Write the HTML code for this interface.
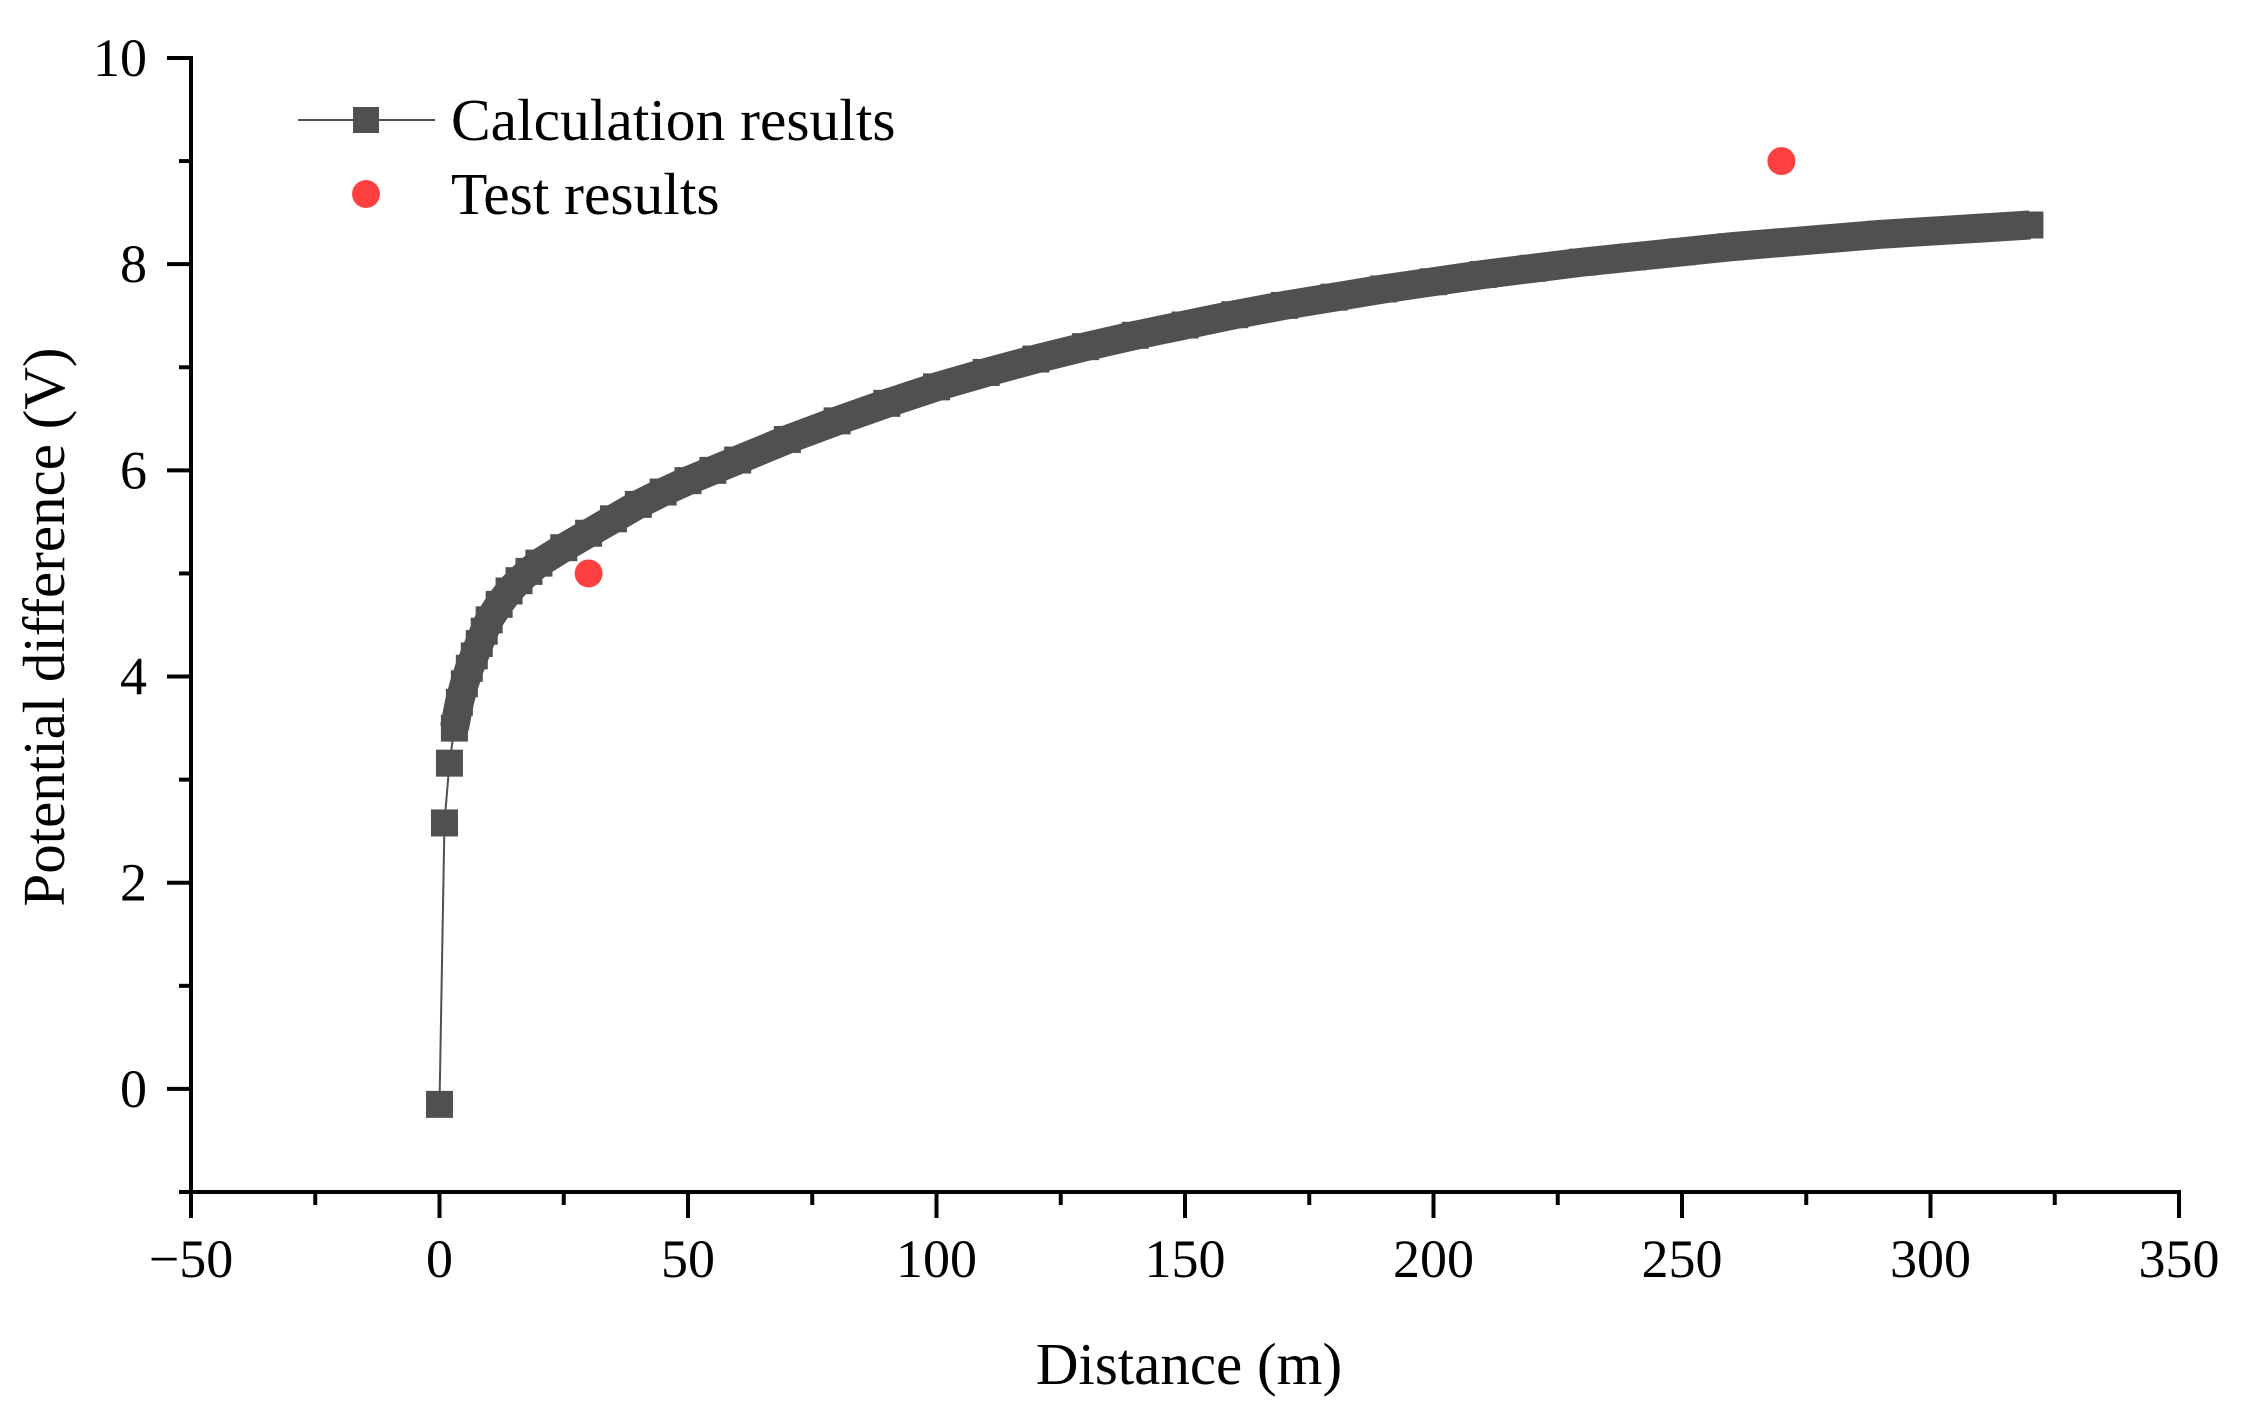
<!DOCTYPE html>
<html><head><meta charset="utf-8"><style>
html,body{margin:0;padding:0;background:#fff;}
svg{display:block;font-family:"Liberation Serif",serif;}
</style></head><body>
<svg id="chart" width="2248" height="1402" viewBox="0 0 2248 1402" xmlns="http://www.w3.org/2000/svg">
<g id="plot"></g>
<g id="axes"></g>
<g id="legend">
  <line x1="298" y1="120" x2="435" y2="120" stroke="#505050" stroke-width="2"/>
  <rect x="353" y="107" width="26" height="26" fill="#505050"/>
  <text x="451" y="140" font-size="59.5">Calculation results</text>
  <circle cx="366" cy="194" r="14" fill="#ff4040"/>
  <text x="451" y="214" font-size="59.5">Test results</text>
</g>
<text x="1189" y="1384" font-size="59" text-anchor="middle">Distance (m)</text>
<text transform="translate(64,627) rotate(-90)" font-size="59" text-anchor="middle">Potential difference (V)</text>
</svg>
<script>
const calcX = [0,1,2,3,4,5,6,7,8,9,10,12,14,16,18,20,25,30,35,40,45,50,55,60,70,80,90,100,110,120,130,140,150,160,170,180,190,200,210,220,230,240,250,260,270,280,290,300,310,320];
const calcY = [-0.15,2.58,3.16,3.5,3.75,3.93,4.08,4.2,4.32,4.44,4.55,4.7,4.83,4.93,5.02,5.1,5.25,5.39,5.53,5.67,5.79,5.9,6.0,6.1,6.3,6.48,6.65,6.81,6.95,7.08,7.2,7.31,7.41,7.51,7.6,7.68,7.76,7.83,7.9,7.96,8.02,8.07,8.12,8.17,8.21,8.25,8.29,8.32,8.35,8.38];
const testX = [30,270];
const testY = [5.0,9.0];
const xTicks = [-50,0,50,100,150,200,250,300,350];
const yTicks = [0,2,4,6,8,10];

const NS="http://www.w3.org/2000/svg";
const X0=191, X1=2179, XMIN=-50, XMAX=350;
const YB=1192, YT=58, YMIN=-1, YMAX=10;
function sx(v){return X0+(v-XMIN)/(XMAX-XMIN)*(X1-X0);}
function sy(v){return YB-(v-YMIN)/(YMAX-YMIN)*(YB-YT);}
function mk(tag,attrs,parent){const e=document.createElementNS(NS,tag);for(const k in attrs)e.setAttribute(k,attrs[k]);parent.appendChild(e);return e;}

const plot=document.getElementById('plot');
const axes=document.getElementById('axes');
let pts=calcX.map((x,i)=>sx(x)+','+sy(calcY[i])).join(' ');
const thin=mk('polyline',{points:pts,fill:'none',stroke:'#505050','stroke-width':2},plot);


let bpts=calcX.slice(3).map((x,i)=>sx(x)+','+sy(calcY[i+3])).join(' ');
const band=mk('polyline',{points:bpts,fill:'none',stroke:'#505050','stroke-width':29,'stroke-linejoin':'round'},plot);


calcX.forEach((x,i)=>{
  const r=mk('rect',{x:sx(x)-13.5,y:sy(calcY[i])-13.5,width:27,height:27,fill:'#505050'},plot);
  
  
});
testX.forEach((x,i)=>{
  const c=mk('circle',{cx:sx(x),cy:sy(testY[i]),r:14,fill:'#ff4040'},plot);
  
  
});
const xa=mk('line',{x1:X0-2,y1:YB,x2:X1+2,y2:YB,stroke:'#000','stroke-width':4},axes);


const ya=mk('line',{x1:X0,y1:YT-2,x2:X0,y2:YB+2,stroke:'#000','stroke-width':4},axes);


xTicks.forEach((t,i)=>{
  mk('line',{x1:sx(t),y1:YB,x2:sx(t),y2:YB+26,stroke:'#000','stroke-width':4},axes);
  if(i<xTicks.length-1){const m=(t+xTicks[i+1])/2;mk('line',{x1:sx(m),y1:YB,x2:sx(m),y2:YB+13,stroke:'#000','stroke-width':4},axes);}
  const tx=mk('text',{x:sx(t),y:1277,'font-size':54,'text-anchor':'middle'},axes);
  tx.textContent=t<0?'\u2212'+Math.abs(t):String(t);
  
  
});
yTicks.forEach((t,i)=>{
  mk('line',{x1:X0-24,y1:sy(t),x2:X0,y2:sy(t),stroke:'#000','stroke-width':4},axes);
  const ty=mk('text',{x:147,y:sy(t)+18,'font-size':54,'text-anchor':'end'},axes);
  ty.textContent=String(t);
  
  
});
[-1,1,3,5,7,9].forEach(m=>{
  mk('line',{x1:X0-12,y1:sy(m),x2:X0,y2:sy(m),stroke:'#000','stroke-width':4},axes);
});
</script>
</body></html>
